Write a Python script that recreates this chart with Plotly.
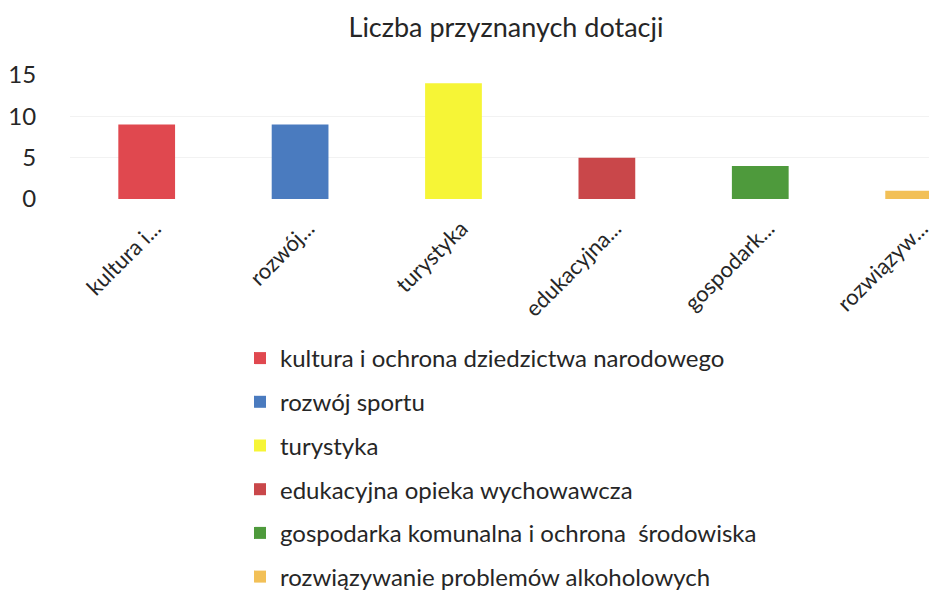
import plotly.graph_objects as go

categories = [
    "kultura i ochrona dziedzictwa narodowego",
    "rozwój sportu",
    "turystyka",
    "edukacyjna opieka wychowawcza",
    "gospodarka komunalna i ochrona  środowiska",
    "rozwiązywanie problemów alkoholowych",
]
tick_labels = ["kultura i...", "rozwój...", "turystyka", "edukacyjna...", "gospodark...", "rozwiązyw..."]
values = [9, 9, 14, 5, 4, 1]
colors = ["#E0484F", "#4A7BBF", "#F6F536", "#C9474A", "#4E9A3C", "#F2C057"]
y_ticks = [0, 5, 10, 15]

FONT = "Lato"
TXT = "#262626"

fig = go.Figure()
for i, (name, v, c) in enumerate(zip(categories, values, colors)):
    fig.add_trace(go.Bar(
        x=[i], y=[v], name=name, marker=dict(color=c, line=dict(width=0)),
        legendgroup=str(i), showlegend=True,
    ))

fig.update_layout(
    width=929, height=592,
    paper_bgcolor="white", plot_bgcolor="white",
    barmode="overlay", bargap=0.63,
    margin=dict(l=70, r=0, t=75, b=393, pad=0, autoexpand=False),
    font=dict(family=FONT, color=TXT),
    title=dict(text="Liczba przyznanych dotacji", x=506 / 929, xref="container", xanchor="center",
               y=1 - 28 / 592, yref="container", yanchor="middle",
               font=dict(size=27, family=FONT, color=TXT)),
    xaxis=dict(tickmode="array", tickvals=list(range(len(categories))), ticktext=tick_labels,
               range=[-0.5, 5.1], tickangle=-45, showgrid=False, zeroline=False, showline=False,
               automargin=False, ticklabelshift=8, ticklabeloverflow="allow",
               tickfont=dict(size=22, family=FONT, color=TXT), ticks="outside", ticklen=7,
               tickcolor="rgba(0,0,0,0)"),
    yaxis=dict(range=[0, 15], tickmode="array", tickvals=y_ticks, showgrid=True, gridcolor="#f2f2f2",
               zeroline=False, showline=False, ticks="outside", ticklen=28, tickcolor="rgba(0,0,0,0)",
               automargin=False,
               tickfont=dict(size=24, family=FONT, color=TXT)),
    legend=dict(x=240 / 929, xref="container", xanchor="left", y=1 - 336 / 592, yref="container",
                yanchor="top", orientation="v",
                tracegroupgap=9.5, font=dict(size=24, family=FONT, color=TXT),
                itemsizing="constant", bgcolor="rgba(0,0,0,0)"),
)

fig.write_html("out.html", config={"displayModeBar": False},
               post_script="document.body.style.margin='0';document.body.style.overflow='hidden';")
